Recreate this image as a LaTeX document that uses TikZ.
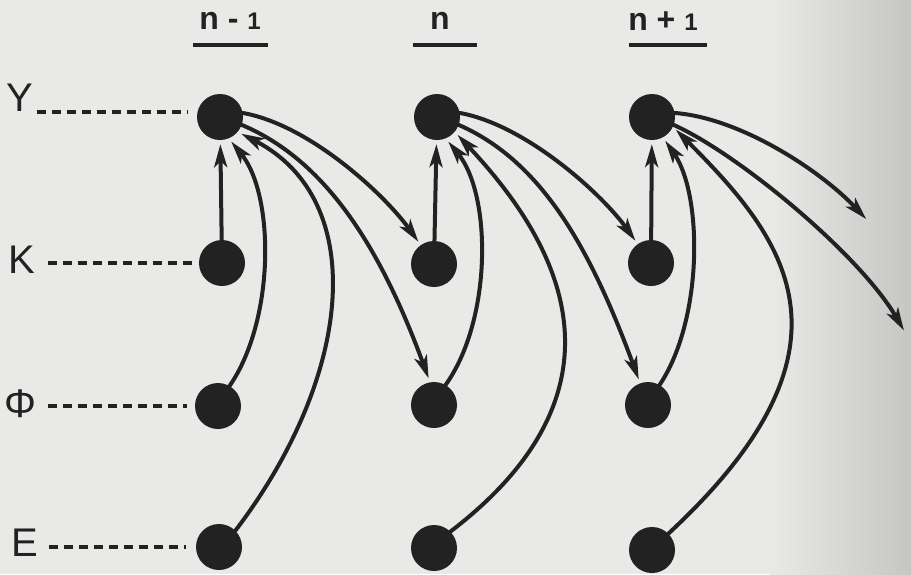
\documentclass[tikz,border=0pt]{standalone}
\usepackage{fontspec}
\setmainfont{Liberation Sans}
\usetikzlibrary{arrows.meta}
\definecolor{inkc}{RGB}{34,34,34}
\definecolor{paper}{RGB}{233,233,231}
\definecolor{paperdark}{RGB}{198,198,196}
\begin{document}
\begin{tikzpicture}[x=1pt,y=-1pt,
  dot/.style={circle, fill=inkc, minimum size=46pt, inner sep=0pt},
  lab/.style={font=\fontsize{40}{40}\selectfont, text=inkc, inner sep=0pt},
  hdr/.style={font=\bfseries\fontsize{32}{32}\selectfont, text=inkc, inner sep=0pt},
  conn/.style={draw=inkc, line width=4pt, line cap=round,
    -{Stealth[length=23pt,width=13pt,inset=6pt]}, shorten >=4pt},
  dashl/.style={draw=inkc, line width=3.3pt, dash pattern=on 9pt off 6pt},
  uline/.style={draw=inkc, line width=3.6pt}]
\useasboundingbox (0,0) rectangle (911,574);
\fill[paper] (0,0) rectangle (911,574);
\shade[left color=paper, right color=paperdark] (770,0) rectangle (911,574);

% headers
\node[hdr] (hA) at (230,21) {n - {\fontsize{24}{24}\selectfont 1}};
\node[hdr] (hB) at (440,21) {n};
\node[hdr] (hC) at (663,21) {n + {\fontsize{24}{24}\selectfont 1}};
\draw[uline] (193,45) -- (268,45);
\draw[uline] (413,45) -- (477,45);
\draw[uline] (629,45) -- (707,45);

% row labels
\node[lab] (lY) at (20,98) {Y};
\node[lab] (lK) at (22,260) {K};
\node[lab] (lP) at (20,404) {Φ};
\node[lab] (lE) at (25,543) {E};

% nodes
\node[dot] (Y1) at (220,117) {};
\node[dot] (K1) at (222,263) {};
\node[dot] (P1) at (218,406) {};
\node[dot] (E1) at (219,547) {};
\node[dot] (Y2) at (437,117) {};
\node[dot] (K2) at (434,264) {};
\node[dot] (P2) at (434,405) {};
\node[dot] (E2) at (434,548) {};
\node[dot] (Y3) at (652,117) {};
\node[dot] (K3) at (651,263) {};
\node[dot] (P3) at (648,405) {};
\node[dot] (E3) at (652,550) {};
\coordinate (O1) at (869,222);
\coordinate (O2) at (906,334);

% dashed leaders
\draw[dashl] ([xshift=3pt]lY.south east) -- ([xshift=-9pt]lY.south east -| Y1.west);
\draw[dashl] ([xshift=12pt]lK.east |- K1) -- ([xshift=-7pt]K1.west);
\draw[dashl] ([xshift=12pt]lP.east |- P1) -- ([xshift=-8pt]P1.west);
\draw[dashl] ([xshift=10pt]lE.east |- E1) -- ([xshift=-10pt]E1.west);

% column n-1
\draw[conn] (K1) -- (Y1);
\draw[conn] (P1.60) .. controls (275,320) and (275,195) .. (Y1.-68);
\draw[conn] (E1.45) .. controls (353,376) and (370,200) .. (Y1.-40);
\draw[conn] (Y1.10) .. controls (310,125) and (385,195) .. (K2.125);
\draw[conn] (Y1.-20) .. controls (325,160) and (380,246) .. (P2.100);

% column n
\draw[conn] (K2) -- (Y2);
\draw[conn] (P2.60) .. controls (492,320) and (492,195) .. (Y2.-68);
\draw[conn] (E2.45) .. controls (650,379) and (544,227) .. (Y2.-40);
\draw[conn] (Y2.10) .. controls (526,125) and (602,194) .. (K3.125);
\draw[conn] (Y2.-20) .. controls (541,161) and (590,247) .. (P3.110);

% column n+1
\draw[conn] (K3) -- (Y3);
\draw[conn] (P3.60) .. controls (703,320) and (703,195) .. (Y3.-62);
\draw[conn] (E3.45) .. controls (873,344) and (782,236) .. (Y3.-25);
\draw[conn] (Y3.10) .. controls (740,118) and (820,170) .. (O1);
\draw[conn] (Y3.-20) .. controls (740,155) and (860,255) .. (O2);
\end{tikzpicture}
\end{document}
